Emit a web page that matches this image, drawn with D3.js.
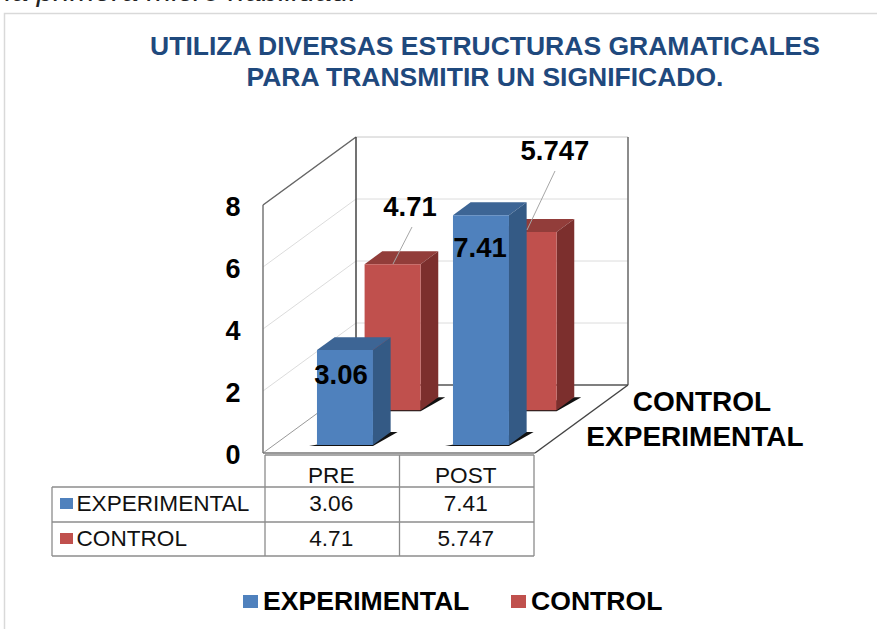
<!DOCTYPE html>
<html><head><meta charset="utf-8">
<script src="https://cdn.jsdelivr.net/npm/d3@7/dist/d3.min.js"></script>
<style>html,body{margin:0;padding:0;background:#fff}svg{display:block}text{font-family:"Liberation Sans",Arial,sans-serif}</style>
</head><body><svg id="c" width="877" height="629"></svg>
<script>
const categories = ["PRE", "POST"];
const seriesNames = ["EXPERIMENTAL", "CONTROL"];
const experimental = [3.06, 7.41];
const control = [4.71, 5.747];
const valueLabels = [["3.06", "7.41"], ["4.71", "5.747"]];
const yTicks = [0, 2, 4, 6, 8];
const titleLines = ["UTILIZA DIVERSAS ESTRUCTURAS GRAMATICALES", "PARA TRANSMITIR UN SIGNIFICADO."];
const seriesValues = [experimental, control];
const faceColors = [
  {front:"#4f81bd", top:"#3d6595", side:"#345a85"},
  {front:"#c0504d", top:"#923d3a", side:"#7c2f2d"}
];

const svg = d3.select("#c");
const x0 = 263, yBase = 453, dx = 93, dy = -68;
const x = d3.scaleBand().domain(categories).range([x0, 535]).paddingInner(0).paddingOuter(0);
const y = d3.scaleLinear().domain([0, 8]).range([yBase, 205]);
const z = d3.scaleOrdinal().domain(seriesNames).range([0.118, 0.63]);
const barW = 56, barOff = 43, barD = 0.19;
const P = (px, v, zz) => [px + zz * dx, y(v) + zz * dy];
const poly = (pts, attrs) => {
  const p = svg.append("polygon").attr("points", pts.map(d => d.join(",")).join(" "));
  Object.entries(attrs).forEach(([k, val]) => p.attr(k, val));
  return p;
};
const line = (a, b, col, w) => svg.append("line").attr("x1", a[0]).attr("y1", a[1]).attr("x2", b[0]).attr("y2", b[1]).attr("stroke", col).attr("stroke-width", w);

// page frame and cut-off text above it
svg.append("text").attr("x", 5).attr("y", 1).attr("font-size", 30).attr("font-style", "italic").attr("fill", "#222").text("la primera micro habilidad:");
svg.append("path").attr("d", "M4.5,629V13.5H877").attr("fill", "none").attr("stroke", "#d9d9d9").attr("stroke-width", 1.5);

// title
svg.selectAll("text.title").data(titleLines).join("text").attr("class", "title")
  .attr("x", 485).attr("y", (d, i) => 55 + i * 31).attr("text-anchor", "middle")
  .attr("font-size", 26.5).attr("font-weight", "bold").attr("fill", "#1f497d").text(d => d);

// walls
const gx1 = x.range()[1];
yTicks.filter(t => t > 0).forEach(t => {
  line(P(x0, t, 0), P(x0, t, 1), "#dcdcdc", 1);
  line(P(x0, t, 1), P(gx1, t, 1), t === 8 ? "#c8c8c8" : "#dcdcdc", 1);
});
line(P(x0, 0, 0), P(x0, 0, 1), "#999", 1);
line(P(x0, 0, 0), P(x0, 8, 0), "#777", 1.5);
line(P(x0, 8, 0), P(x0, 8, 1), "#666", 1.5);
line(P(x0, 8, 1), P(x0, 0, 1), "#444", 1.5);
line(P(gx1, 8, 1), P(gx1, 0, 1), "#666", 1.5);
line(P(x0, 0, 1), P(gx1, 0, 1), "#555", 1.5);
line(P(gx1, 0, 1), P(gx1, 0, 0), "#444", 1.5);
line(P(x0, 0, 0), P(gx1, 0, 0), "#777", 1.5);

// bars (back series first)
[1, 0].forEach(s => {
  const name = seriesNames[s], zz = z(name), c = faceColors[s];
  seriesValues[s].forEach((v, i) => {
    const l = x(categories[i]) + barOff, r = l + barW, zb = zz + barD;
    poly([[P(l,0,zz)[0]-8, P(l,0,zz)[1]+1], [P(r,0,zz)[0], P(r,0,zz)[1]+1], [P(r,0,zb)[0]+7, P(r,0,zb)[1]], [P(r,0,zb)[0], P(r,0,zb)[1]]], {fill:"#111"});
    poly([P(l,v,zz), P(r,v,zz), P(r,v,zb), P(l,v,zb)], {fill:c.top});
    poly([P(r,0,zz), P(r,v,zz), P(r,v,zb), P(r,0,zb)], {fill:c.side});
    poly([P(l,0,zz), P(r,0,zz), P(r,v,zz), P(l,v,zz)], {fill:c.front});
  });
});

// leader lines and data labels
const lbl = (t, px, py, fs) => svg.append("text").attr("x", px).attr("y", py).attr("text-anchor", "middle").attr("dominant-baseline", "central").attr("font-size", fs).attr("font-weight", "bold").attr("fill", "#000").text(t);
line([412, 227], [393, 264], "#a6a6a6", 1);
line([555, 171], [527, 230], "#a6a6a6", 1);
lbl(valueLabels[0][0], 341, 374, 27.5);
lbl(valueLabels[0][1], 480, 247, 27.5);
lbl(valueLabels[1][0], 410, 206, 27.5);
lbl(valueLabels[1][1], 555, 150, 27.5);

// value axis labels
yTicks.forEach(t => lbl(String(t), 233, y(t) + 1.5, 27));

// series axis labels
lbl(seriesNames[1], 702, 401, 28);
lbl(seriesNames[0], 695, 436, 28);

// data table
const tx = [52, 265, 399.5, 534], ty = [455, 487, 522, 556], tc = "#8c8c8c";
tx.slice(1).forEach(v => line([v, ty[0]], [v, ty[3]], tc, 1.3));
line([tx[0], ty[1]], [tx[0], ty[3]], tc, 1.3);
line([tx[1], ty[0]], [tx[3], ty[0]], tc, 1.3);
ty.slice(1).forEach(v => line([tx[0], v], [tx[3], v], tc, 1.3));
const tlbl = (t, px, py, anchor) => svg.append("text").attr("x", px).attr("y", py).attr("text-anchor", anchor).attr("dominant-baseline", "central").attr("font-size", 22.6).attr("fill", "#111").text(t);
const colMid = i => (tx[i + 1] + tx[i + 2]) / 2;
categories.forEach((c, i) => tlbl(c, colMid(i) - 1, 475, "middle"));
seriesNames.forEach((n, s) => {
  const rowY = s === 0 ? 503 : 538;
  svg.append("rect").attr("x", 60).attr("y", rowY - 5).attr("width", 13).attr("height", 11).attr("fill", faceColors[s].front);
  tlbl(n, 76.5, rowY, "start");
  categories.forEach((c, i) => tlbl(valueLabels[s][i], colMid(i) - 1, rowY, "middle"));
});

// legend
[[243, 263], [511, 531]].forEach(([sx, tx2], s) => {
  svg.append("rect").attr("x", sx).attr("y", 595).attr("width", 15).attr("height", 13).attr("fill", faceColors[s].front);
  svg.append("text").attr("x", tx2).attr("y", 601).attr("dominant-baseline", "central").attr("font-size", 26.6).attr("font-weight", "bold").attr("fill", "#000").text(seriesNames[s]);
});
</script></body></html>
